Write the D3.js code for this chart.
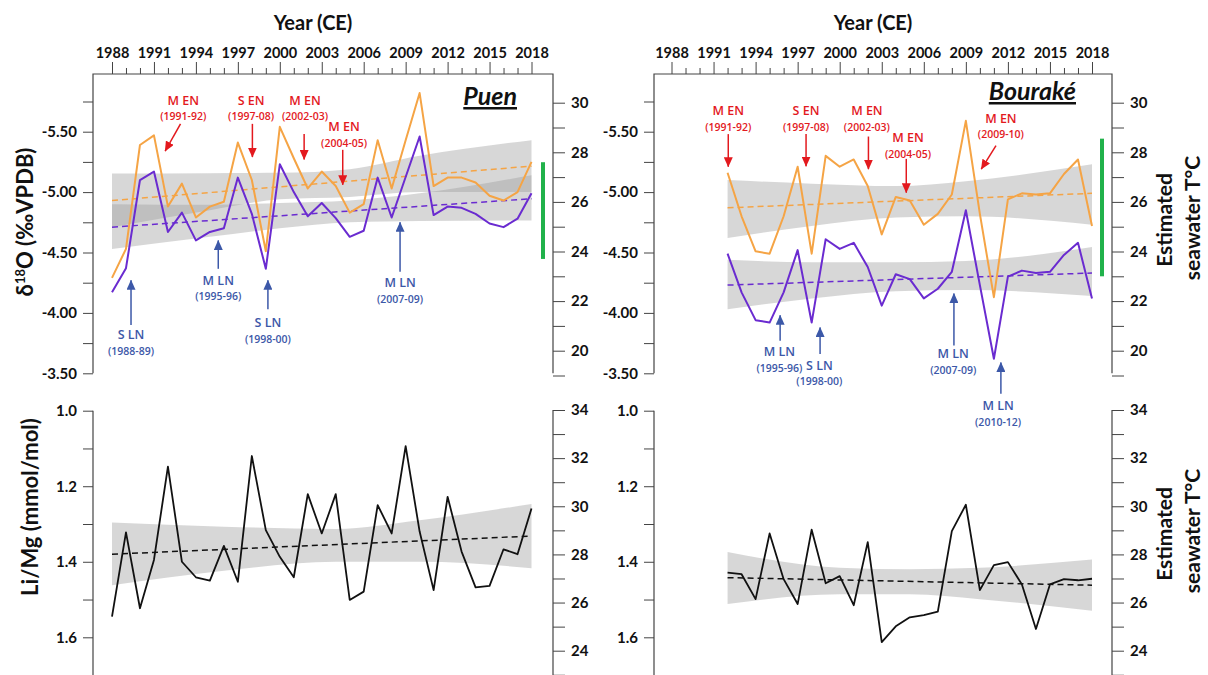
<!DOCTYPE html>
<html><head><meta charset="utf-8">
<script src="https://cdn.jsdelivr.net/npm/d3@7"></script>
<style>
body{margin:0;background:#fff}
svg{display:block}
text{font-family:Lato,'Open Sans',sans-serif}
</style>
</head><body>
<svg id="c" width="1208" height="675"></svg>
<script>
// ---------------- DATA ----------------
const puenYears = [1988,1989,1990,1991,1992,1993,1994,1995,1996,1997,1998,1999,2000,2001,2002,2003,2004,2005,2006,2007,2008,2009,2010,2011,2012,2013,2014,2015,2016,2017,2018];
const bourYears = [1992,1993,1994,1995,1996,1997,1998,1999,2000,2001,2002,2003,2004,2005,2006,2007,2008,2009,2010,2011,2012,2013,2014,2015,2016,2017,2018];

// δ18O (‰VPDB), Puen
const puenOrange = [-4.29,-4.53,-5.39,-5.47,-4.88,-5.07,-4.79,-4.88,-4.92,-5.41,-5.10,-4.51,-5.54,-5.28,-5.03,-5.17,-5.05,-4.83,-4.90,-5.43,-5.03,-5.43,-5.82,-5.05,-5.12,-5.12,-5.08,-4.97,-4.93,-5.00,-5.25];
const puenPurple = [-4.17,-4.37,-5.10,-5.17,-4.67,-4.83,-4.60,-4.67,-4.70,-5.12,-4.82,-4.365,-5.23,-5.00,-4.80,-4.91,-4.785,-4.63,-4.68,-5.12,-4.79,-5.125,-5.46,-4.81,-4.88,-4.87,-4.82,-4.74,-4.71,-4.78,-4.99];
// δ18O (‰VPDB), Bouraké
const bourOrange = [-5.16,-4.80,-4.51,-4.49,-4.80,-5.21,-4.49,-5.30,-5.21,-5.27,-5.05,-4.65,-4.96,-4.93,-4.73,-4.82,-4.98,-5.59,-4.82,-4.13,-4.94,-4.99,-4.98,-4.99,-5.15,-5.27,-4.72];
const bourPurple = [-4.49,-4.17,-3.94,-3.92,-4.17,-4.52,-3.92,-4.61,-4.53,-4.58,-4.38,-4.06,-4.32,-4.28,-4.12,-4.20,-4.34,-4.85,-4.23,-3.62,-4.30,-4.35,-4.33,-4.34,-4.48,-4.58,-4.12];

// linear trends (start, end)
const puenTrendYears = [1988,2018];
const puenOrangeTrend = [-4.93,-5.215];
const puenPurpleTrend = [-4.71,-4.945];
const bourTrendYears = [1992,2018];
const bourOrangeTrend = [-4.87,-4.99];
const bourPurpleTrend = [-4.23,-4.33];

// confidence bands (upper = more negative)
const puenBandYears = [1988,1995,2000,2005,2010,2018];
const puenOrangeBandTop    = [-5.155,-5.157,-5.16,-5.19,-5.30,-5.43];
const puenOrangeBandBottom = [-4.71,-4.85,-4.94,-4.96,-5.00,-5.00];
const puenPurpleBandTop    = [-4.90,-4.895,-4.91,-4.93,-4.99,-5.14];
const puenPurpleBandBottom = [-4.53,-4.63,-4.70,-4.75,-4.76,-4.765];
const bourBandYears = [1992,1998,2004,2009,2018];
const bourOrangeBandTop    = [-5.10,-5.07,-5.05,-5.09,-5.23];
const bourOrangeBandBottom = [-4.62,-4.72,-4.79,-4.80,-4.73];
const bourPurpleBandTop    = [-4.44,-4.42,-4.42,-4.43,-4.545];
const bourPurpleBandBottom = [-4.03,-4.12,-4.18,-4.19,-4.14];

// seawater T range bars (°C)
const puenTRange = [23.7,27.6];
const bourTRange = [23.0,28.55];

// Li/Mg (mmol/mol)
const puenLiMg = [1.545,1.322,1.523,1.395,1.148,1.40,1.441,1.450,1.358,1.453,1.12,1.316,1.387,1.441,1.221,1.325,1.221,1.501,1.479,1.25,1.325,1.094,1.32,1.475,1.228,1.373,1.468,1.464,1.367,1.38,1.259];
const bourLiMg = [1.429,1.433,1.499,1.325,1.446,1.512,1.315,1.457,1.438,1.515,1.348,1.613,1.571,1.547,1.541,1.532,1.319,1.249,1.475,1.409,1.401,1.46,1.578,1.46,1.446,1.449,1.445];
const puenLiMgTrend = [1.38,1.332];
const bourLiMgTrend = [1.442,1.462];
const puenLiMgBandYears = [1988,1996,2004,2010,2018];
const puenLiMgBandTop    = [1.296,1.307,1.313,1.29,1.247];
const puenLiMgBandBottom = [1.462,1.424,1.40,1.40,1.417];
const bourLiMgBandYears = [1992,2000,2005,2010,2018];
const bourLiMgBandTop    = [1.374,1.416,1.42,1.416,1.394];
const bourLiMgBandBottom = [1.512,1.486,1.486,1.499,1.53];

// axis ticks
const yearTicks = [1988,1991,1994,1997,2000,2003,2006,2009,2012,2015,2018];
const d18Ticks = [-5.5,-5.0,-4.5,-4.0,-3.5];
const d18Minor = [-5.75,-5.25,-4.75,-4.25,-3.75];
const tTopTicks = [20,22,24,26,28,30];
const tTopMinor = [19,21,23,25,27,29];
const liTicks = [1.0,1.2,1.4,1.6];
const liMinor = [1.1,1.3,1.5,1.7];
const tBotTicks = [24,26,28,30,32,34];
const tBotMinor = [23,25,27,29,31,33];

// ENSO event labels
const puenEvents = [
  {t:"M EN", p:"(1991-92)", c:"en"}, {t:"S EN", p:"(1997-08)", c:"en"},
  {t:"M EN", p:"(2002-03)", c:"en"}, {t:"M EN", p:"(2004-05)", c:"en"},
  {t:"S LN", p:"(1988-89)", c:"ln"}, {t:"M LN", p:"(1995-96)", c:"ln"},
  {t:"S LN", p:"(1998-00)", c:"ln"}, {t:"M LN", p:"(2007-09)", c:"ln"}];
const bourEvents = [
  {t:"M EN", p:"(1991-92)", c:"en"}, {t:"S EN", p:"(1997-08)", c:"en"},
  {t:"M EN", p:"(2002-03)", c:"en"}, {t:"M EN", p:"(2004-05)", c:"en"},
  {t:"M EN", p:"(2009-10)", c:"en"}, {t:"M LN", p:"(1995-96)", c:"ln"},
  {t:"S LN", p:"(1998-00)", c:"ln"}, {t:"M LN", p:"(2007-09)", c:"ln"},
  {t:"M LN", p:"(2010-12)", c:"ln"}];
// layout of labels in data coordinates: [labelYear, labelValue, arrowFromYear, arrowFromValue, arrowToYear, arrowToValue]
const puenEventLayout = [
  [1993.1,-5.76, 1992.9,-5.565, 1991.8,-5.34],
  [1997.95,-5.76, 1998.04,-5.565, 1998.04,-5.29],
  [2001.8,-5.76, 2001.74,-5.48, 2001.74,-5.27],
  [2004.6,-5.54, 2004.5,-5.35, 2004.5,-5.06],
  [1989.36,-3.82, 1989.36,-3.90, 1989.36,-4.27],
  [1995.6,-4.27, 1995.6,-4.365, 1995.6,-4.60],
  [1999.15,-3.92, 1999.15,-4.03, 1999.15,-4.27],
  [2008.6,-4.25, 2008.6,-4.34, 2008.6,-4.75]];
const bourEventLayout = [
  [1992.05,-5.675, 1992.05,-5.48, 1992.05,-5.21],
  [1997.6,-5.675, 1997.6,-5.48, 1997.6,-5.215],
  [2001.94,-5.675, 2002.05,-5.46, 2002.05,-5.19],
  [2004.87,-5.45, 2004.75,-5.275, 2004.75,-4.995],
  [2011.5,-5.61, 2011.15,-5.385, 2010.1,-5.19],
  [1995.7,-3.68, 1995.75,-3.77, 1995.75,-3.98],
  [1998.55,-3.565, 1998.6,-3.66, 1998.6,-3.88],
  [2008.1,-3.66, 2008.15,-3.73, 2008.15,-4.16],
  [2011.3,-3.233, 2011.5,-3.33, 2011.5,-3.59]];

// ---------------- DRAW ----------------
const C = {orange:"#F5A445", purple:"#6A2BD0", green:"#21B24B", red:"#E3191E", blue:"#3C58A8", axis:"#444"};
const svg = d3.select("#c");
const defs = svg.append("defs");
[["en",C.red],["ln",C.blue]].forEach(([id,col])=>{
  defs.append("marker").attr("id","ah-"+id).attr("viewBox","0 0 10 9")
    .attr("refX",9.5).attr("refY",4.5).attr("markerWidth",10).attr("markerHeight",9)
    .attr("markerUnits","userSpaceOnUse").attr("orient","auto")
    .append("path").attr("d","M0,0L10,4.5L0,9Z").attr("fill",col);
});

function styleAxis(g, size){
  g.attr("font-family",null).attr("font-size",size).attr("font-weight","bold");
  g.selectAll(".domain").remove();
  g.selectAll(".tick line").attr("stroke",C.axis);
  g.selectAll(".tick text").attr("fill","#111");
}

const panels = [
  {name:"Puen", xr:[112,531.5], fl:93, fr:553, nameY:105,
   years:puenYears, orange:puenOrange, purple:puenPurple,
   trendYears:puenTrendYears, oTrend:puenOrangeTrend, pTrend:puenPurpleTrend,
   bandYears:puenBandYears, oTop:puenOrangeBandTop, oBot:puenOrangeBandBottom, pTop:puenPurpleBandTop, pBot:puenPurpleBandBottom,
   tRange:puenTRange, events:puenEvents, layout:puenEventLayout,
   li:puenLiMg, liTrend:puenLiMgTrend, liBandYears:puenLiMgBandYears, liTop:puenLiMgBandTop, liBot:puenLiMgBandBottom,
   rightTitle:false},
  {name:"Bouraké", xr:[671.5,1092], fl:654, fr:1112, nameY:100,
   years:bourYears, orange:bourOrange, purple:bourPurple,
   trendYears:bourTrendYears, oTrend:bourOrangeTrend, pTrend:bourPurpleTrend,
   bandYears:bourBandYears, oTop:bourOrangeBandTop, oBot:bourOrangeBandBottom, pTop:bourPurpleBandTop, pBot:bourPurpleBandBottom,
   tRange:bourTRange, events:bourEvents, layout:bourEventLayout,
   li:bourLiMg, liTrend:bourLiMgTrend, liBandYears:bourLiMgBandYears, liTop:bourLiMgBandTop, liBot:bourLiMgBandBottom,
   rightTitle:true}
];

panels.forEach(p=>{
  const x = d3.scaleLinear().domain([1988,2018]).range(p.xr);
  const y = d3.scaleLinear().domain([-5.5,-3.5]).range([131.7,373.3]);
  const yT = d3.scaleLinear().domain([30,20]).range([102.7,350.7]);
  const yL = d3.scaleLinear().domain([1.0,1.6]).range([410.7,637.3]);
  const yT2 = d3.scaleLinear().domain([34,24]).range([410,650.7]);
  const g = svg.append("g");

  // ---- top panel ----
  const band = (yrs, top, bot, ys) => d3.area().x((d,i)=>x(yrs[i])).y0((d,i)=>ys(bot[i])).y1((d,i)=>ys(top[i])).curve(d3.curveMonotoneX)(yrs);
  g.append("path").attr("d",band(p.bandYears,p.oTop,p.oBot,y)).attr("fill","#9a9a9a").attr("fill-opacity",0.4);
  g.append("path").attr("d",band(p.bandYears,p.pTop,p.pBot,y)).attr("fill","#9a9a9a").attr("fill-opacity",0.4);

  const lineOf = (yrs, vals, ys) => d3.line().x((d,i)=>x(yrs[i])).y((d,i)=>ys(vals[i]))(yrs);
  g.append("path").attr("d",lineOf(p.trendYears,p.oTrend,y)).attr("fill","none").attr("stroke",C.orange).attr("stroke-width",1.5).attr("stroke-dasharray","6,4");
  g.append("path").attr("d",lineOf(p.trendYears,p.pTrend,y)).attr("fill","none").attr("stroke",C.purple).attr("stroke-width",1.5).attr("stroke-dasharray","6,4");
  g.append("path").attr("d",lineOf(p.years,p.orange,y)).attr("fill","none").attr("stroke",C.orange).attr("stroke-width",2).attr("stroke-linejoin","round");
  g.append("path").attr("d",lineOf(p.years,p.purple,y)).attr("fill","none").attr("stroke",C.purple).attr("stroke-width",2).attr("stroke-linejoin","round");

  // green T-range bar
  g.append("rect").attr("x",p.fr-12).attr("width",4)
    .attr("y",yT(p.tRange[1])).attr("height",yT(p.tRange[0])-yT(p.tRange[1])).attr("fill",C.green);

  // frame
  g.append("path").attr("d",`M${p.fl},${y(-3.5)}V74H${p.fr}V${y(-3.5)}`).attr("fill","none").attr("stroke",C.axis).attr("stroke-width",1.2);

  // year axis (top)
  const ga = g.append("g").attr("transform","translate(0,74)")
    .call(d3.axisTop(x).tickValues(yearTicks).tickFormat(d3.format("d")).tickSize(12).tickPadding(4));
  styleAxis(ga,14.5);
  const gm = g.append("g").attr("transform","translate(0,74)")
    .call(d3.axisTop(x).tickValues(puenYears.filter(v=>!yearTicks.includes(v))).tickFormat("").tickSize(6));
  styleAxis(gm,14);

  // left δ18O axis
  const gl = g.append("g").attr("transform",`translate(${p.fl},0)`)
    .call(d3.axisLeft(y).tickValues(d18Ticks).tickFormat(d=>d.toFixed(2)).tickSize(10).tickPadding(6));
  styleAxis(gl,15);
  const glm = g.append("g").attr("transform",`translate(${p.fl},0)`)
    .call(d3.axisLeft(y).tickValues(d18Minor).tickFormat("").tickSize(10));
  styleAxis(glm,15);
  // right T axis
  const gr = g.append("g").attr("transform",`translate(${p.fr},0)`)
    .call(d3.axisRight(yT).tickValues(tTopTicks).tickFormat(d3.format("d")).tickSize(12).tickPadding(6));
  styleAxis(gr,15);
  const grm = g.append("g").attr("transform",`translate(${p.fr},0)`)
    .call(d3.axisRight(yT).tickValues(tTopMinor).tickFormat("").tickSize(12));
  styleAxis(grm,15);

  // Year (CE)
  g.append("text").attr("x",(p.fl+p.fr)/2-10).attr("y",30).attr("text-anchor","middle")
    .attr("font-size",20).attr("font-weight","bold").attr("fill","#111").text("Year (CE)");
  // site name
  g.append("text").attr("x",p.fr-36).attr("y",p.nameY).attr("text-anchor","end")
    .attr("font-size",25).attr("font-weight","bold").attr("font-style","italic")
    .attr("text-decoration","underline").attr("fill","#111").text(p.name);

  // events
  p.events.forEach((e,i)=>{
    const L = p.layout[i];
    const col = e.c==="en"?C.red:C.blue;
    g.append("line").attr("x1",x(L[2])).attr("y1",y(L[3])).attr("x2",x(L[4])).attr("y2",y(L[5]))
      .attr("stroke",col).attr("stroke-width",1.5).attr("marker-end",`url(#ah-${e.c})`);
    const t = g.append("text").attr("text-anchor","middle").attr("fill",col)
      .style("font-family","'Open Sans',sans-serif").attr("font-weight",600);
    t.append("tspan").attr("x",x(L[0])).attr("y",y(L[1])+4.5).attr("font-size",12.5).text(e.t);
    t.append("tspan").attr("x",x(L[0])).attr("y",y(L[1])+20).attr("font-size",10.5).text(e.p);
  });

  // ---- bottom panel (Li/Mg) ----
  g.append("path").attr("d",band(p.liBandYears,p.liTop,p.liBot,yL)).attr("fill","#9a9a9a").attr("fill-opacity",0.4);
  g.append("path").attr("d",lineOf(p.trendYears,p.liTrend,yL)).attr("fill","none").attr("stroke","#111").attr("stroke-width",1.5).attr("stroke-dasharray","6,4");
  g.append("path").attr("d",lineOf(p.years,p.li,yL)).attr("fill","none").attr("stroke","#111").attr("stroke-width",1.8).attr("stroke-linejoin","round");

  g.append("line").attr("x1",p.fl).attr("x2",p.fl).attr("y1",yL(1.0)).attr("y2",675).attr("stroke",C.axis).attr("stroke-width",1.2);
  g.append("line").attr("x1",p.fr).attr("x2",p.fr).attr("y1",yT2(34)).attr("y2",675).attr("stroke",C.axis).attr("stroke-width",1.2);
  const bl = g.append("g").attr("transform",`translate(${p.fl},0)`)
    .call(d3.axisLeft(yL).tickValues(liTicks).tickFormat(d3.format(".1f")).tickSize(10).tickPadding(6));
  styleAxis(bl,15);
  const blm = g.append("g").attr("transform",`translate(${p.fl},0)`)
    .call(d3.axisLeft(yL).tickValues(liMinor).tickFormat("").tickSize(10));
  styleAxis(blm,15);
  const br = g.append("g").attr("transform",`translate(${p.fr},0)`)
    .call(d3.axisRight(yT2).tickValues(tBotTicks).tickFormat(d3.format("d")).tickSize(12).tickPadding(6));
  styleAxis(br,15);
  const brm = g.append("g").attr("transform",`translate(${p.fr},0)`)
    .call(d3.axisRight(yT2).tickValues(tBotMinor).tickFormat("").tickSize(12));
  styleAxis(brm,15);

  if(p.rightTitle){
    [[220,218],[534,531]].forEach(([c1,c2])=>{
      g.append("text").attr("transform",`translate(1165,${c1}) rotate(-90)`).attr("text-anchor","middle")
        .attr("dy","0.35em").attr("font-size",21).attr("font-weight","bold").attr("fill","#111").text("Estimated");
      g.append("text").attr("transform",`translate(1193,${c2}) rotate(-90)`).attr("text-anchor","middle")
        .attr("dy","0.35em").attr("font-size",21).attr("font-weight","bold").attr("fill","#111").text("seawater T°C");
    });
  }
});

// left axis titles
const t1 = svg.append("text").attr("transform","translate(25,222) rotate(-90)").attr("text-anchor","middle")
  .attr("dy","0.35em").attr("font-size",22).attr("font-weight","bold").attr("fill","#111");
t1.append("tspan").text("δ");
t1.append("tspan").attr("font-size",13).attr("dy",-8).text("18");
t1.append("tspan").attr("dy",8).text("O (‰VPDB)");
svg.append("text").attr("transform","translate(30,507) rotate(-90)").attr("text-anchor","middle")
  .attr("dy","0.35em").attr("font-size",22).attr("font-weight","bold").attr("fill","#111").text("Li/Mg (mmol/mol)");
</script>
</body></html>
